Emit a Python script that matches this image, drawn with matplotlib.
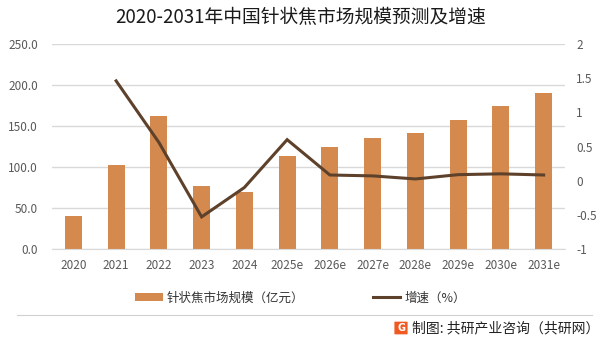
import matplotlib
matplotlib.use("Agg")
import matplotlib.pyplot as plt
from matplotlib.patches import Patch, FancyBboxPatch
from matplotlib.lines import Line2D

plt.rcParams['font.family'] = ['Noto Sans CJK SC', 'DejaVu Sans']

years = ["2020", "2021", "2022", "2023", "2024", "2025e", "2026e", "2027e",
         "2028e", "2029e", "2030e", "2031e"]
market_size = [40.4, 102.4, 162.0, 77.0, 69.7, 113.4, 124.3, 135.0, 141.0, 157.0, 174.0, 190.0]
growth_years = years[1:]
growth = [1.46, 0.56, -0.53, -0.10, 0.60, 0.083, 0.07, 0.025, 0.088, 0.10, 0.083]

left_ticks = [0, 50, 100, 150, 200, 250]
right_ticks = [-1, -0.5, 0, 0.5, 1, 1.5, 2]

bar_color = "#D48A4E"
line_color = "#5E412B"
tick_color = "#595959"
grid_color = "#D9D9D9"

fig = plt.figure(figsize=(6.01, 3.44), dpi=100)
W, H = 601, 344
ax = fig.add_axes([52 / W, 95 / H, (565 - 52) / W, (249 - 44) / H])
ax2 = ax.twinx()

x = list(range(len(years)))
ax.bar(x, market_size, width=0.4, color=bar_color, zorder=2)
ax.set_xlim(-0.5, len(years) - 0.5)
ax.set_ylim(0, 250)
ax.set_yticks(left_ticks)
ax.set_yticklabels([f"{v:.1f}" for v in left_ticks])
ax.set_xticks(x)
ax.set_xticklabels(years)
ax.yaxis.grid(True, color=grid_color, linewidth=1.0, zorder=0)
ax.set_axisbelow(True)
for s in ["top", "right", "left"]:
    ax.spines[s].set_visible(False)
ax.spines["bottom"].set_color(grid_color)
ax.tick_params(axis="both", length=0, colors=tick_color, labelsize=8.5)
ax.tick_params(axis="x", pad=7)
ax.tick_params(axis="y", pad=10)

gx = [years.index(y) for y in growth_years]
ax2.plot(gx, growth, color=line_color, linewidth=2.2, zorder=3, solid_joinstyle="miter")
ax2.set_ylim(-1, 2)
ax2.set_yticks(right_ticks)
ax2.set_yticklabels([f"{v:g}" for v in right_ticks])
for s in ["top", "right", "left", "bottom"]:
    ax2.spines[s].set_visible(False)
ax2.tick_params(axis="y", length=0, colors=tick_color, labelsize=8.5, pad=8)

fig.text(0.5, 1 - 18 / H, "2020-2031年中国针状焦市场规模预测及增速", ha="center", va="center",
         fontsize=13.5, color="#1a1a1a")

handles = [Patch(facecolor=bar_color, edgecolor="none"),
           Line2D([0], [0], color=line_color, linewidth=2.2)]
labels = ["针状焦市场规模（亿元）", "增速（%）"]
fig.legend(handles, labels, loc="center", bbox_to_anchor=(0.5, 1 - 298 / H), ncol=2,
           frameon=False, fontsize=9, handlelength=2.2, handleheight=0.6,
           columnspacing=5.5, handletextpad=0.3, labelcolor="#333333")

fig.add_artist(Line2D([17 / W, 0.985], [1 - 315 / H, 1 - 315 / H], color="#D0D0D0",
                      linewidth=0.8, transform=fig.transFigure))

# footer logo
logo = FancyBboxPatch((395 / W, 1 - 334 / H), 12 / W, 12 / H, boxstyle="round,pad=0.001",
                      facecolor="#F05A22", edgecolor="none", transform=fig.transFigure)
fig.add_artist(logo)
fig.text(401 / W, 1 - 328 / H, "G", ha="center", va="center", fontsize=7, color="white",
         fontweight="bold", family=["DejaVu Sans"])
fig.text(412 / W, 1 - 328 / H, "制图: 共研产业咨询（共研网）", ha="left", va="center",
         fontsize=10, color="#222222")

fig.savefig("out.png", dpi=100)
